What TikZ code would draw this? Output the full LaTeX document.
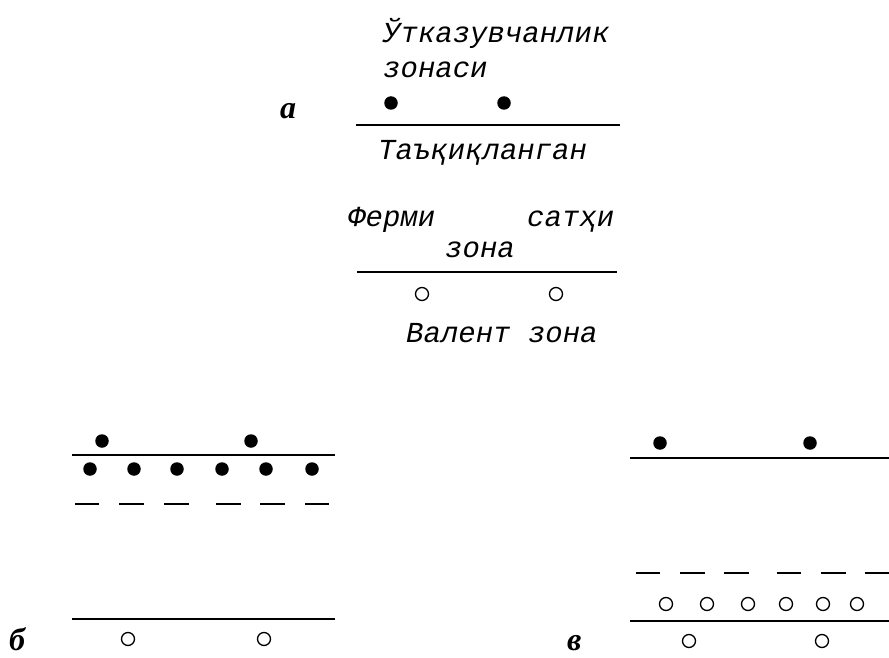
\documentclass[tikz,border=0pt]{standalone}
\usepackage{fontspec}
\setmainfont{Liberation Mono}
\newfontfamily\labelfont{Liberation Serif}
\begin{document}
\begin{tikzpicture}[x=1pt,y=-1pt,
  level/.style={line width=1.6pt},
  electron/.style={circle, fill=black, inner sep=0pt, minimum size=13.5pt},
  hole/.style={circle, draw=black, line width=1.3pt, inner sep=0pt, minimum size=13pt},
  zonetext/.style={anchor=base west, inner sep=0pt, font=\fontsize{29}{31}\selectfont\itshape},
  panel/.style={anchor=base west, inner sep=0pt, text depth=0pt, font=\fontsize{32}{34}\selectfont\labelfont\bfseries\itshape}]
\useasboundingbox (0,0) rectangle (889,658);

% --- panel a: band scheme with labels ---
\node[panel] (la) at (280,119) {а};
\node[zonetext] (t1) at (383,43) {Ўтказувчанлик};
\node[zonetext] (t2) at (383,78) {зонаси};
\node[electron] (a1) at (391,103) {};
\node[electron] (a2) at (504,103) {};
\coordinate (aCl) at (356,125); \coordinate (aCr) at (620,125);
\draw[level] (aCl) -- (aCr);
\node[zonetext] (t3) at (378,160) {Таъқиқланган};
\node[zonetext] (t4) at (348,226) {Ферми};
\node[zonetext] (t5) at (527,226) {сатҳи};
\node[zonetext] (t6) at (445,257) {зона};
\coordinate (aVl) at (357,272); \coordinate (aVr) at (617,272);
\draw[level] (aVl) -- (aVr);
\node[hole] (ah1) at (422,294) {};
\node[hole] (ah2) at (556,294) {};
\node[zonetext] (t7) at (406,342) {Валент зона};

% --- panel b: donor levels below the conduction band ---
\node[panel] (lb) at (9,650) {б};
\node[electron] (b1) at (102,441) {};
\node[electron] (b2) at (251,441) {};
\coordinate (bCl) at (72,455); \coordinate (bCr) at (335,455);
\draw[level] (bCl) -- (bCr);
\foreach \x [count=\i] in {90,134,177,222,266,312}
  \node[electron] (bd\i) at (\x,469) {};
\foreach \a/\b [count=\i] in {75/99,119/144,164/189,216/241,260/285,305/329}
  \draw[level] (\a,504) coordinate (bs\i) -- (\b,504) coordinate (be\i);
\coordinate (bVl) at (72,619); \coordinate (bVr) at (335,619);
\draw[level] (bVl) -- (bVr);
\node[hole] (bh1) at (128,639) {};
\node[hole] (bh2) at (264,639) {};

% --- panel v: acceptor levels above the valence band ---
\node[panel] (lv) at (567,650) {в};
\node[electron] (v1) at (660,443) {};
\node[electron] (v2) at (810,443) {};
\coordinate (vCl) at (630,458); \coordinate (vCr) at (889,458);
\draw[level] (vCl) -- (vCr);
\foreach \a/\b [count=\i] in {636/660,680/705,724/749,777/801,821/846,865/889}
  \draw[level] (\a,573) coordinate (vs\i) -- (\b,573) coordinate (ve\i);
\foreach \x [count=\i] in {666,707,748,786,823,857}
  \node[hole] (vd\i) at (\x,604) {};
\coordinate (vVl) at (630,621); \coordinate (vVr) at (889,621);
\draw[level] (vVl) -- (vVr);
\node[hole] (vh1) at (689,641) {};
\node[hole] (vh2) at (822,641) {};
\end{tikzpicture}
\end{document}
